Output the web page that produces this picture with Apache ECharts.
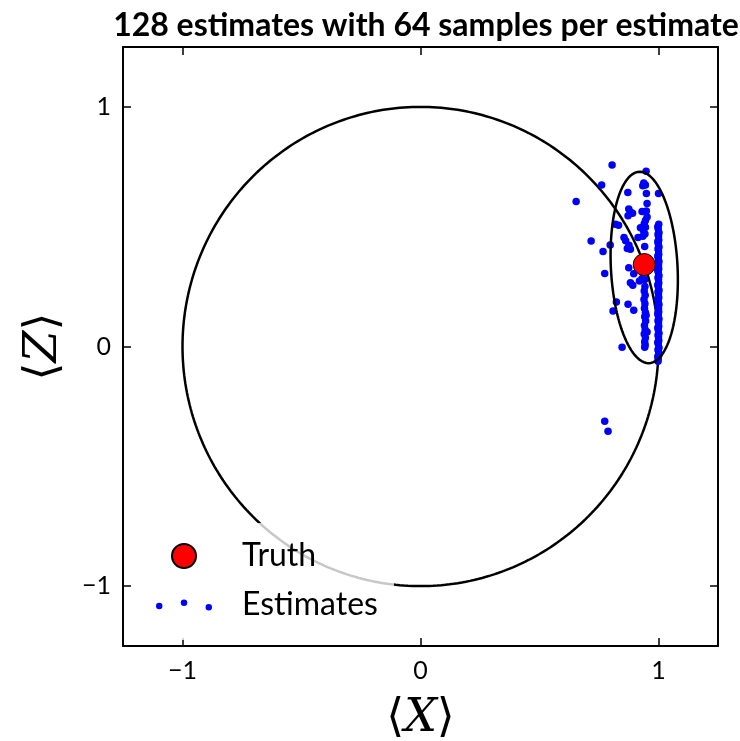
<!DOCTYPE html>
<html>
<head>
<meta charset="utf-8" />
<script src="https://cdn.jsdelivr.net/npm/echarts@6/dist/echarts.min.js"></script>
<style>
	html, body { margin: 0; padding: 0; background: #fff; }
	#chart { width: 740px; height: 741px; }
</style>
</head>
<body>
<div id="chart"></div>
<script type="text/javascript">
// 真值点
var truth = [0.94, 0.342];

// 128 个估计值 [<X>, <Z>]
var estimates = [
	// 左侧零散点
	[0.805, 0.758], [0.761, 0.674], [0.654, 0.605], [0.717, 0.440], [0.797, 0.424],
	[0.767, 0.396], [0.774, 0.305], [0.823, 0.186], [0.809, 0.148], [0.847, -0.003],
	[0.774, -0.312], [0.788, -0.354], [0.819, 0.510], [0.832, 0.506],
	// 中间一带
	[0.871, 0.643], [0.875, 0.574], [0.882, 0.561], [0.891, 0.556], [0.872, 0.546],
	[0.855, 0.455], [0.862, 0.441], [0.876, 0.423], [0.882, 0.406], [0.869, 0.409],
	[0.875, 0.329], [0.896, 0.304], [0.882, 0.266], [0.892, 0.256], [0.872, 0.176],
	[0.896, 0.151], [0.914, 0.455], [0.924, 0.496],
	// x≈0.94 一列（上）
	[0.948, 0.731], [0.938, 0.682], [0.945, 0.674], [0.934, 0.671], [0.949, 0.639],
	[0.952, 0.597], [0.931, 0.563], [0.949, 0.566], [0.952, 0.540], [0.945, 0.526],
	[0.940, 0.512], [0.945, 0.498], [0.937, 0.484], [0.943, 0.470], [0.934, 0.460],
	[0.942, 0.417], [0.920, 0.273], [0.931, 0.284], [0.942, 0.280],
	// x≈0.94 一列（下）
	[0.943, 0.250], [0.940, 0.232], [0.944, 0.214], [0.939, 0.196], [0.943, 0.178],
	[0.941, 0.160], [0.945, 0.142], [0.942, 0.124], [0.946, 0.106], [0.941, 0.088],
	[0.944, 0.070], [0.940, 0.052], [0.945, 0.036], [0.942, 0.020], [0.944, 0.006],
	[0.942, -0.003], [0.952, 0.060], [0.948, 0.130],
	// x≈1 一列
	[1.000, 0.639], [1.001, 0.510], [0.999, 0.490], [1.002, 0.475], [1.000, 0.460],
	[1.001, 0.445], [0.999, 0.430], [1.002, 0.415], [1.000, 0.400], [1.001, 0.385],
	[0.999, 0.370], [1.002, 0.355], [1.000, 0.340], [1.001, 0.325], [0.999, 0.310],
	[1.002, 0.295], [1.000, 0.280], [1.001, 0.265], [0.999, 0.250], [1.002, 0.235],
	[1.000, 0.220], [1.001, 0.205], [0.999, 0.190], [1.002, 0.175], [1.000, 0.160],
	[1.001, 0.145], [0.999, 0.130], [1.002, 0.115], [1.000, 0.100], [1.001, 0.085],
	[0.999, 0.070], [1.002, 0.055], [1.000, 0.040], [1.001, 0.025], [0.999, 0.010],
	[1.002, -0.005], [1.000, -0.020], [1.001, -0.035], [0.999, -0.050],
	[0.997, 0.500], [0.998, 0.468], [0.997, 0.438], [0.998, 0.408], [0.997, 0.378],
	[0.998, 0.348], [0.997, 0.318], [0.998, 0.288], [0.997, 0.258], [0.998, 0.228],
	[0.997, 0.198], [0.998, 0.168], [0.997, 0.138], [0.998, 0.108], [0.997, 0.078],
	[0.998, 0.048], [0.997, 0.018], [0.998, -0.012], [0.997, -0.042], [0.998, -0.062]
];

// 坐标轴刻度
var tickValues = [-1, 0, 1];
var axisMin = -1.25, axisMax = 1.25;

// 置信椭圆参数：中心、长半轴、短半轴、倾角（度）
var ellCenter = [0.94, 0.33];
var ellMajor = 0.40, ellMinor = 0.14, ellTilt = 3;

// 单位圆
var circle = [];
for (var i = 0; i <= 360; i++) {
	var t = i * Math.PI / 180;
	circle.push([Math.cos(t), Math.sin(t)]);
}
var ellipse = [];
var phi = ellTilt * Math.PI / 180;
for (var j = 0; j <= 360; j++) {
	var s = j * Math.PI / 180;
	var u = ellMajor * Math.sin(s), v = ellMinor * Math.cos(s);
	ellipse.push([ellCenter[0] - u * Math.sin(phi) + v * Math.cos(phi),
	              ellCenter[1] + u * Math.cos(phi) + v * Math.sin(phi)]);
}

function tickFmt(val) {
	return val < 0 ? '\u2212' + Math.abs(val) : String(val);
}

var dotsIcon = 'path://M0,6a3,3 0 1,0 6,0a3,3 0 1,0 -6,0Z' +
	'M23,3a3,3 0 1,0 6,0a3,3 0 1,0 -6,0Z' +
	'M46,7a3,3 0 1,0 6,0a3,3 0 1,0 -6,0Z';

function makeAxis(pos, showLabel) {
	return {
		type: 'value',
		position: pos,
		min: axisMin,
		max: axisMax,
		axisLine: { show: true, onZero: false, lineStyle: { color: '#000', width: 2 } },
		axisTick: { show: true, inside: true, length: 8, customValues: tickValues,
			lineStyle: { color: '#000', width: 1.5 } },
		axisLabel: { show: showLabel, customValues: tickValues, formatter: tickFmt,
			fontFamily: 'Lato', fontSize: 25, color: '#000', margin: 12 },
		splitLine: { show: false }
	};
}

var nameStyle = { rich: {
	b: { fontFamily: 'DejaVu Serif', fontSize: 46, color: '#000' },
	i: { fontFamily: 'DejaVu Serif', fontStyle: 'italic', fontSize: 46, color: '#000' }
} };

var xBottom = makeAxis('bottom', true);
xBottom.name = '{b|\u27E8}{i|X}{b|\u27E9}';
xBottom.nameLocation = 'middle';
xBottom.nameGap = 50;
xBottom.nameTextStyle = nameStyle;

var yLeft = makeAxis('left', true);
yLeft.name = '{b|\u27E8}{i|Z}{b|\u27E9}';
yLeft.nameLocation = 'middle';
yLeft.nameGap = 56;
yLeft.nameRotate = 90;
yLeft.nameTextStyle = nameStyle;

var myChart = echarts.init(document.getElementById('chart'));
var option = {
	animation: false,
	backgroundColor: '#fff',
	title: {
		text: '128 estimates with 64 samples per estimate',
		left: 421,
		top: 5,
		textAlign: 'center',
		textStyle: { fontFamily: 'Lato', fontWeight: 'bold', fontSize: 32, color: '#000' }
	},
	grid: { left: 123, right: 22, top: 47, bottom: 95, outerBoundsMode: 'none', containLabel: false },
	xAxis: [xBottom, makeAxis('top', false)],
	yAxis: [yLeft, makeAxis('right', false)],
	legend: {
		orient: 'vertical',
		left: 136,
		top: 523,
		padding: [17, 16, 19, 20],
		itemGap: 17,
		itemWidth: 56,
		itemHeight: 24,
		backgroundColor: 'rgba(255,255,255,0.78)',
		data: [
			{ name: 'Truth', icon: 'circle' },
			{ name: 'Estimates', icon: dotsIcon }
		],
		formatter: function (name) { return '{t|' + name + '}'; },
		textStyle: { rich: { t: { fontFamily: 'Lato', fontSize: 32, color: '#000', padding: [0, 0, 0, 25] } } }
	},
	series: [
		{
			type: 'line', data: circle, showSymbol: false, silent: true,
			lineStyle: { color: '#000', width: 2.5 }, z: 1
		},
		{
			type: 'line', data: ellipse, showSymbol: false, silent: true,
			lineStyle: { color: '#000', width: 2.5 }, z: 3
		},
		{
			name: 'Estimates', type: 'scatter', data: estimates, symbolSize: 7.5,
			itemStyle: { color: '#0000ff', opacity: 1 }, z: 2
		},
		{
			name: 'Truth', type: 'scatter', data: [truth], symbolSize: 22,
			itemStyle: { color: '#ff0000', borderColor: '#000', borderWidth: 1, opacity: 1 }, z: 4
		}
	]
};
myChart.setOption(option);
</script>
</body>
</html>
